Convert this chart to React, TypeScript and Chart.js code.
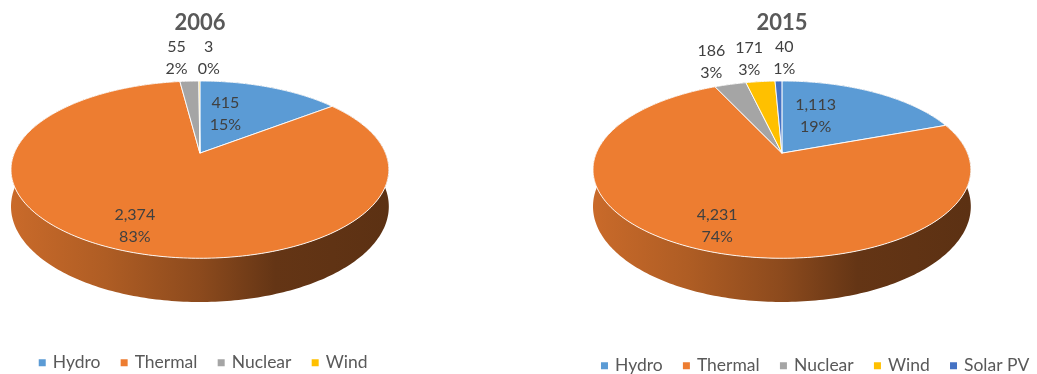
import React, { useEffect, useRef } from "react";
import { Chart, registerables } from "chart.js";

Chart.register(...registerables);

// ---- data ----
const categories2006 = ["Hydro", "Thermal", "Nuclear", "Wind"];
const values2006 = [415, 2374, 55, 3];
const categories2015 = ["Hydro", "Thermal", "Nuclear", "Wind", "Solar PV"];
const values2015 = [1113, 4231, 186, 171, 40];
const sliceColors = ["#5B9BD5", "#ED7D31", "#A5A5A5", "#FFC000", "#4472C4"];

// ---- 3D look ----
const PERSPECTIVE = 0.186;
const TILT = 0.461;
const DEPTH = 0.1918;
const FONT = "Lato, 'Open Sans', sans-serif";

function hexToRgb(hex: string) {
  const h = hex.replace("#", "");
  return [parseInt(h.slice(0, 2), 16), parseInt(h.slice(2, 4), 16), parseInt(h.slice(4, 6), 16)];
}
function shade(hex: string, f: number) {
  const [r, g, b] = hexToRgb(hex);
  return `rgb(${Math.round(r * f)},${Math.round(g * f)},${Math.round(b * f)})`;
}
const SIDE_STOPS: [number, number][] = [
  [0, 0.85],
  [0.25, 0.74],
  [0.5, 0.59],
  [0.7, 0.42],
  [1, 0.39],
];

function maxSin(s: number, e: number) {
  const hp = Math.PI / 2;
  if (s <= hp && hp <= e) return 1;
  return Math.max(Math.sin(s), Math.sin(e));
}

const pie3d = {
  id: "pie3d",
  beforeDatasetsDraw(chart: any) {
    const { ctx, chartArea: ca } = chart;
    const meta = chart.getDatasetMeta(0);
    const values: number[] = chart.data.datasets[0].data;
    const colors: string[] = chart.data.datasets[0].backgroundColor;
    const a = PERSPECTIVE;
    const H = ca.bottom - ca.top;
    const KX = H / (TILT / (1 + a) + (TILT + DEPTH) / (1 - a));
    const KY = TILT * KX;
    const D = DEPTH * KX;
    const halfW = KX / Math.sqrt(1 - a * a);
    const cx = ca.left + halfW;
    const cy = ca.top + KY / (1 + a);
    const proj = (p: number, ang: number, h = 0) => {
      const c = Math.cos(ang);
      const s = Math.sin(ang);
      const w = 1 - a * p * s;
      return [cx + (KX * p * c) / w, cy + (KY * p * s + h) / w];
    };
    const arcs = meta.data.map((el: any, i: number) => ({
      i,
      s: el.startAngle,
      e: el.endAngle,
    }));

    ctx.save();
    // sides
    const order = arcs.slice().sort((A: any, B: any) => maxSin(A.s, A.e) - maxSin(B.s, B.e));
    for (const arc of order) {
      const span = arc.e - arc.s;
      if (span <= 0) continue;
      const n = Math.max(2, Math.ceil(span / (Math.PI / 180)));
      ctx.beginPath();
      for (let k = 0; k <= n; k++) {
        const ang = arc.s + (span * k) / n;
        const [x, y] = proj(1, ang, 0);
        if (k === 0) ctx.moveTo(x, y);
        else ctx.lineTo(x, y);
      }
      for (let k = n; k >= 0; k--) {
        const ang = arc.s + (span * k) / n;
        const [x, y] = proj(1, ang, D);
        ctx.lineTo(x, y);
      }
      ctx.closePath();
      const g = ctx.createLinearGradient(cx - halfW, 0, cx + halfW, 0);
      for (const [t, f] of SIDE_STOPS) g.addColorStop(t, shade(colors[arc.i], f));
      ctx.fillStyle = g;
      ctx.fill();
    }
    // top faces
    for (const arc of arcs) {
      const span = arc.e - arc.s;
      const n = Math.max(1, Math.ceil(span / (Math.PI / 180)));
      ctx.beginPath();
      ctx.moveTo(cx, cy);
      for (let k = 0; k <= n; k++) {
        const ang = arc.s + (span * k) / n;
        const [x, y] = proj(1, ang, 0);
        ctx.lineTo(x, y);
      }
      ctx.closePath();
      ctx.fillStyle = colors[arc.i];
      ctx.fill();
      ctx.strokeStyle = "rgba(255,255,255,0.9)";
      ctx.lineWidth = 1;
      ctx.lineJoin = "round";
      ctx.stroke();
    }

    // data labels
    const total = values.reduce((p, v) => p + v, 0);
    ctx.font = `16px ${FONT}`;
    ctx.fillStyle = "#404040";
    ctx.textAlign = "center";
    ctx.textBaseline = "middle";
    const items: any[] = [];
    for (const arc of arcs) {
      const v = values[arc.i];
      const frac = v / total;
      const l1 = v.toLocaleString("en-US");
      const l2 = `${Math.round(frac * 100)}%`;
      let ang: number;
      let p: number;
      let outside = false;
      if (frac >= 0.5) {
        ang = (arc.s + arc.e) / 2;
        p = 0.79;
      } else if (frac >= 0.05) {
        ang = arc.s + 0.32 * (arc.e - arc.s);
        p = 0.52;
      } else {
        ang = (arc.s + arc.e) / 2;
        p = 1.4;
        outside = true;
      }
      const [x, y] = proj(p, ang, 0);
      const w = Math.max(ctx.measureText(l1).width, ctx.measureText(l2).width);
      items.push({ x, y, w, l1, l2, outside });
    }
    const outs = items.filter((it) => it.outside).sort((A, B) => A.x - B.x);
    const gap = 10;
    for (let iter = 0; iter < 30; iter++) {
      for (let k = 0; k < outs.length - 1; k++) {
        const A = outs[k];
        const B = outs[k + 1];
        const need = (A.w + B.w) / 2 + gap - (B.x - A.x);
        if (need > 0) {
          A.x -= need / 2;
          B.x += need / 2;
        }
      }
    }
    for (const it of items) {
      ctx.fillText(it.l1, it.x, it.y - 11);
      ctx.fillText(it.l2, it.x, it.y + 11);
    }
    ctx.restore();
    return false;
  },
};

const blockShift = {
  id: "blockShift",
  afterLayout(chart: any, _args: any, opts: any) {
    const lg = chart.legend;
    if (lg) {
      lg.left += opts.legendDx || 0;
      lg.right += opts.legendDx || 0;
      lg.top += opts.legendDy || 0;
      lg.bottom += opts.legendDy || 0;
    }
    const tb = chart.titleBlock;
    if (tb) {
      tb.left += opts.titleDx || 0;
      tb.right += opts.titleDx || 0;
    }
  },
};

function Pie3D(props: {
  title: string;
  labels: string[];
  values: number[];
  left: number;
  width: number;
  pad: { left: number; right: number; top: number; bottom: number };
  shift: { legendDx: number; legendDy: number; titleDx: number };
}) {
  const ref = useRef<HTMLCanvasElement>(null);
  useEffect(() => {
    const chart = new Chart(ref.current as HTMLCanvasElement, {
      type: "pie",
      data: {
        labels: props.labels,
        datasets: [
          {
            data: props.values,
            backgroundColor: sliceColors.slice(0, props.values.length),
            borderWidth: 0,
          },
        ],
      },
      options: {
        responsive: false,
        animation: false,
        layout: { padding: props.pad },
        plugins: {
          title: {
            display: true,
            text: props.title,
            color: "#595959",
            font: { family: FONT, size: 22, weight: "bold" },
            padding: { top: 10, bottom: 44.6 },
          },
          legend: {
            position: "bottom",
            labels: {
              usePointStyle: true,
              pointStyle: "rect",
              boxWidth: 3.5,
              boxHeight: 7,
              padding: 22,
              color: "#595959",
              font: { family: FONT, size: 17.5 },
            },
          },
          tooltip: { enabled: false },
          blockShift: props.shift,
        } as any,
      },
      plugins: [pie3d, blockShift],
    } as any);
    return () => chart.destroy();
  }, []);
  return (
    <canvas
      ref={ref}
      width={props.width}
      height={374}
      style={{ position: "absolute", left: props.left, top: 0 }}
    />
  );
}

export default function App() {
  return (
    <div
      style={{
        position: "fixed",
        left: 0,
        top: 0,
        width: 1037,
        height: 374,
        overflow: "hidden",
        background: "#ffffff",
      }}
    >
      <Pie3D
        title="2006"
        labels={categories2006}
        values={values2006}
        left={0}
        width={408}
        pad={{ left: 11, right: 11, top: 0, bottom: 22.5 }}
        shift={{ legendDx: 0, legendDy: 30, titleDx: -4 }}
      />
      <Pie3D
        title="2015"
        labels={categories2015}
        values={values2015}
        left={590}
        width={480}
        pad={{ left: 3, right: 3, top: 0, bottom: 22.5 }}
        shift={{ legendDx: -14, legendDy: 33, titleDx: -48 }}
      />
    </div>
  );
}
